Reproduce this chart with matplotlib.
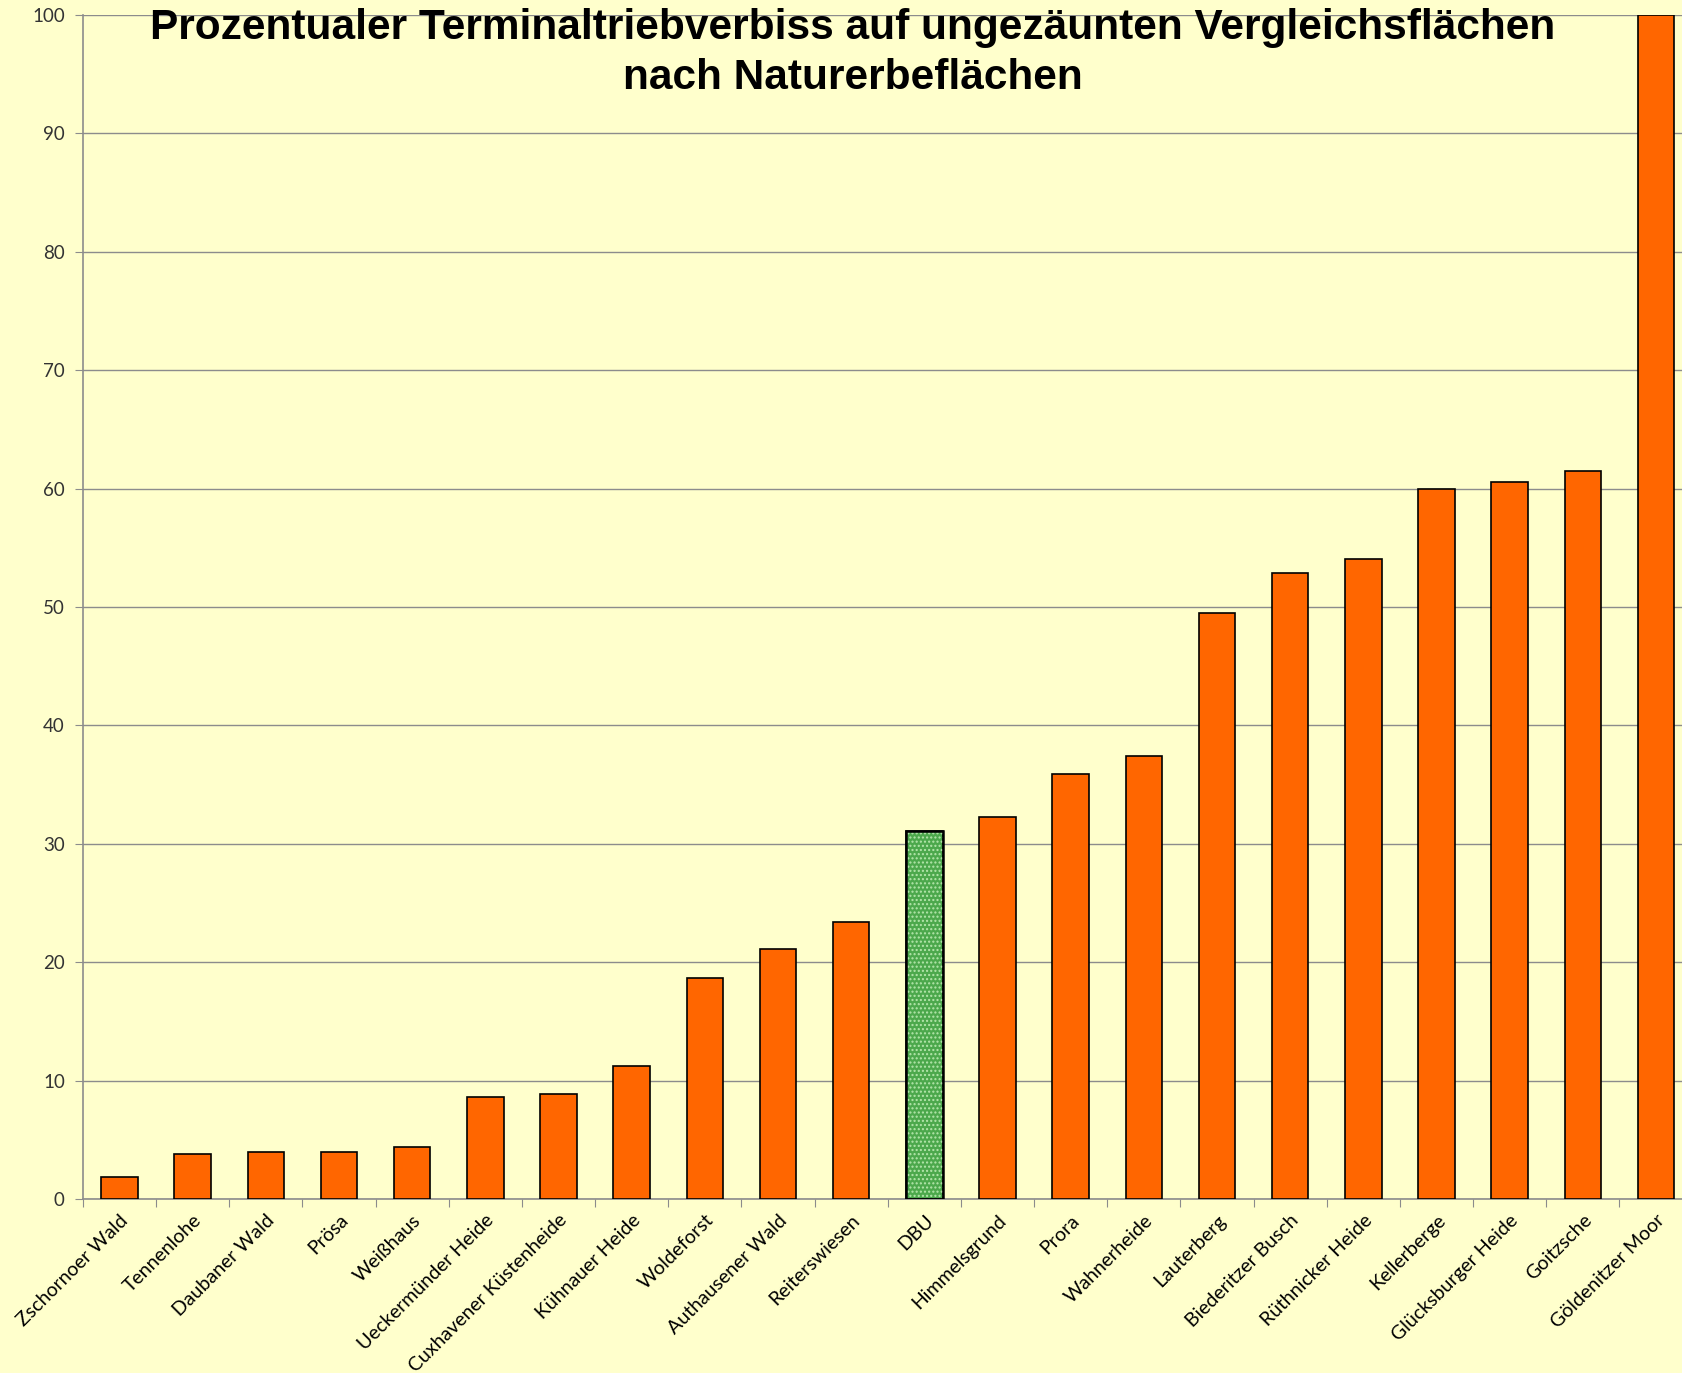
import matplotlib.pyplot as plt
import numpy as np

sites = ['Zschornoer Wald', 'Tennenlohe', 'Daubaner Wald', 'Prösa', 'Weißhaus',
         'Ueckermünder Heide', 'Cuxhavener Küstenheide', 'Kühnauer Heide',
         'Woldeforst', 'Authausener Wald', 'Reiterswiesen', 'DBU', 'Himmelsgrund',
         'Prora', 'Wahnerheide', 'Lauterberg', 'Biederitzer Busch',
         'Rüthnicker Heide', 'Kellerberge', 'Glücksburger Heide', 'Goitzsche',
         'Göldenitzer Moor']
verbiss = [1.9, 3.8, 4.0, 4.0, 4.4, 8.6, 8.9, 11.2, 18.7, 21.1, 23.4, 31.1,
           32.3, 35.9, 37.4, 49.5, 52.9, 54.1, 60.0, 60.6, 61.5, 100.0]
highlight = 'DBU'

bg = '#FFFFCC'
fig = plt.figure(figsize=(16.82, 13.73), dpi=100, facecolor=bg)
ax = fig.add_axes([0.0493, 0.1267, 0.957, 0.8623], facecolor=bg)

x = np.arange(len(sites))
colors = ['#4CA84C' if s == highlight else '#FF6600' for s in sites]
ax.bar(x, verbiss, width=0.5, color=colors, edgecolor='black', linewidth=1.2, zorder=3)
# dotted texture on the highlighted bar
i = sites.index(highlight)
ax.bar(x[i], verbiss[i], width=0.5, color='none', edgecolor='#B5E6AC',
       hatch='....', linewidth=0, zorder=4)
ax.bar(x[i], verbiss[i], width=0.5, color='none', edgecolor='black',
       linewidth=1.8, zorder=5)

ax.set_xlim(-0.5, len(sites) - 0.5)
ax.set_ylim(0, 100)
ax.set_yticks(np.arange(0, 101, 10))
ax.yaxis.grid(True, color='#8C8C8C', linewidth=1.0, zorder=0)

ax.set_xticks(np.arange(-0.5, len(sites), 1.0))
ax.set_xticklabels([])
ax.set_xticks(x, minor=True)
ax.set_xticklabels(sites, minor=True, rotation=45, ha='right', va='top',
                   rotation_mode='anchor', fontsize=14, family='Lato')
ax.tick_params(axis='x', which='minor', length=0, pad=9)
ax.tick_params(axis='x', which='major', length=6, color='#8C8C8C')
ax.tick_params(axis='y', length=6, color='#8C8C8C', labelsize=13.5,
               labelcolor='#333333', pad=7)
for lbl in ax.get_yticklabels():
    lbl.set_family('Lato')

for side in ['top', 'right']:
    ax.spines[side].set_visible(False)
for side in ['left', 'bottom']:
    ax.spines[side].set_color('#8C8C8C')
    ax.spines[side].set_linewidth(1.2)

fig.text(0.507, 0.994, 'Prozentualer Terminaltriebverbiss auf ungezäunten Vergleichsflächen\nnach Naturerbeflächen',
         ha='center', va='top', fontsize=30.5, fontweight='bold',
         family='Liberation Sans', linespacing=1.3)

fig.savefig('out.png', dpi=100, facecolor=bg)
